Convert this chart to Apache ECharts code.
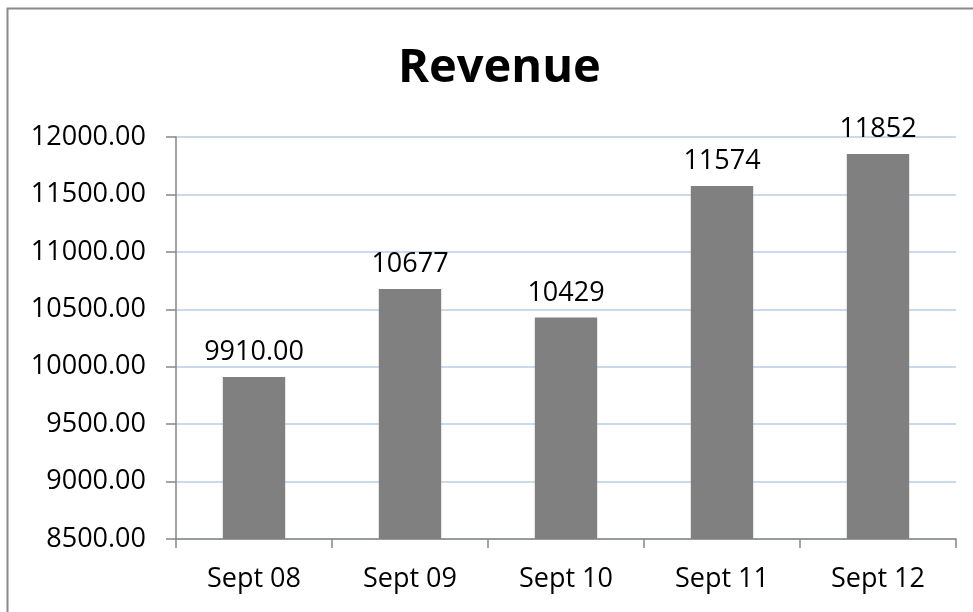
<!DOCTYPE html>
<html>
<head>
<meta charset="utf-8">
<script src="https://cdn.jsdelivr.net/npm/echarts@6/dist/echarts.min.js"></script>
<style>
  html, body { margin: 0; padding: 0; background: #fff; }
  #chart { width: 973px; height: 612px; }
</style>
</head>
<body>
<div id="chart"></div>
<script>
// data
const days = ['Sept 08', 'Sept 09', 'Sept 10', 'Sept 11', 'Sept 12'];
const revenue = [9910, 10677, 10429, 11574, 11852];
const revenueLabels = ['9910.00', '10677', '10429', '11574', '11852'];
const yMin = 8500;
const yMax = 12000;
const yStep = 500;

const font = 'Open Sans';

const chart = echarts.init(document.getElementById('chart'));

chart.setOption({
  animation: false,
  title: {
    text: 'Revenue',
    left: 393,
    top: 40,
    textStyle: { fontFamily: font, fontSize: 47, fontWeight: 'bold', color: '#000' }
  },
  // outer frame of the chart, only top/left edge visible
  graphic: [{
    type: 'rect',
    shape: { x: 7.5, y: 8.5, width: 1100, height: 800 },
    style: { fill: 'none', stroke: '#8a8a8a', lineWidth: 2 },
    silent: true
  }],
  grid: { left: 176, right: 17, top: 137, bottom: 73 },
  xAxis: {
    type: 'category',
    data: days,
    axisLine: { lineStyle: { color: '#868686', width: 1.5 } },
    axisTick: { show: true, alignWithLabel: false, length: 9, lineStyle: { color: '#868686', width: 1.5 } },
    axisLabel: { fontFamily: font, fontSize: 27, color: '#000', margin: 27 }
  },
  yAxis: {
    type: 'value',
    min: yMin,
    max: yMax,
    interval: yStep,
    axisLine: { show: true, lineStyle: { color: '#868686', width: 1.5 } },
    axisTick: { show: true, length: 10, lineStyle: { color: '#868686', width: 1.5 } },
    axisLabel: {
      fontFamily: font, fontSize: 27, color: '#000', margin: 30,
      formatter: v => v.toFixed(2)
    },
    splitLine: { lineStyle: { color: '#b9cde5', width: 1.5 } }
  },
  series: [{
    type: 'bar',
    data: revenue,
    barWidth: '40%',
    itemStyle: { color: '#808080' },
    label: {
      show: true,
      position: 'top',
      distance: 11,
      fontFamily: font,
      fontSize: 27,
      color: '#000',
      formatter: p => revenueLabels[p.dataIndex]
    }
  }]
});
</script>
</body>
</html>
